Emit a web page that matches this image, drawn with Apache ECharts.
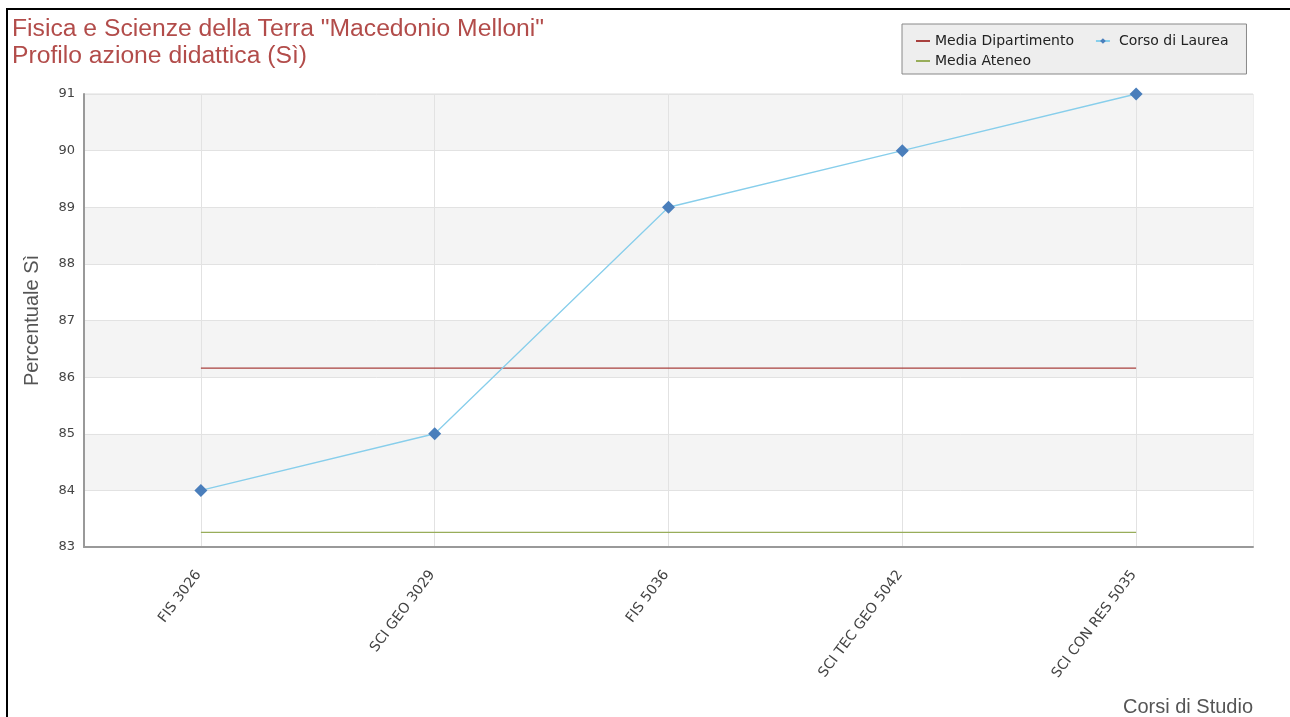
<!DOCTYPE html>
<html>
<head>
<meta charset="utf-8">
<script src="https://cdn.jsdelivr.net/npm/echarts@6/dist/echarts.min.js"></script>
<style>
    body { margin: 0; background: #fff; }
    #frame { position: absolute; left: 6px; top: 8px; width: 1290px; height: 720px;
             border-left: 2px solid #000; border-top: 2px solid #000; }
    #chart { position: absolute; left: 0; top: 0; width: 1290px; height: 717px; }
</style>
</head>
<body>
<div id="frame"></div>
<div id="chart"></div>
<script>
var corsi = ['FIS 3026', 'SCI GEO 3029', 'FIS 5036', 'SCI TEC GEO 5042', 'SCI CON RES 5035'];
var corsoDiLaurea = [84, 85, 89, 90, 91];
var mediaDipartimento = [86.16, 86.16, 86.16, 86.16, 86.16];
var mediaAteneo = [83.26, 83.26, 83.26, 83.26, 83.26];

showChart();

function showChart() {
    var oChart = document.getElementById('chart');
    var chart = echarts.init(oChart);

    var option = {
        animation: false,
        title: {
            text: 'Fisica e Scienze della Terra "Macedonio Melloni"\nProfilo azione didattica (Sì)',
            left: 7,
            top: 11,
            textStyle: {
                color: '#b24c4a',
                fontFamily: 'Liberation Sans',
                fontWeight: 'normal',
                fontSize: 24.7,
                lineHeight: 27
            }
        },
        legend: {
            data: [
                { name: 'Media Dipartimento', itemStyle: { opacity: 0 }, textStyle: { padding: [0, 15, 0, 0] } },
                { name: 'Corso di Laurea', textStyle: { padding: [0, 0, 0, 4] } },
                { name: 'Media Ateneo', itemStyle: { opacity: 0 } }
            ],
            left: 902,
            top: 24,
            width: 322,
            padding: [10, 18, 6, 13],
            itemGap: 6,
            itemWidth: 14,
            itemHeight: 7,
            backgroundColor: '#eeeeee',
            borderColor: '#888',
            borderWidth: 1,
            textStyle: {
                fontFamily: 'DejaVu Sans',
                fontSize: 14,
                lineHeight: 14,
                color: '#222'
            }
        },
        grid: {
            left: 84,
            right: 37,
            top: 94,
            bottom: 170,
            show: true,
            borderColor: '#dddddd',
            borderWidth: 1
        },
        xAxis: {
            type: 'category',
            data: corsi,
            boundaryGap: true,
            name: 'Corsi di Studio',
            nameLocation: 'end',
            nameGap: 0,
            nameTextStyle: {
                fontFamily: 'Liberation Sans',
                fontSize: 20,
                color: '#555',
                align: 'right',
                verticalAlign: 'top',
                padding: [150, 0, 0, 0]
            },
            axisLine: { lineStyle: { color: '#999', width: 2 } },
            axisTick: { show: false },
            axisLabel: {
                rotate: 53,
                margin: 22,
                fontFamily: 'DejaVu Sans',
                fontSize: 14,
                color: '#444',
                padding: [0, 4, 0, 0]
            },
            splitLine: {
                show: true,
                alignWithLabel: true,
                lineStyle: { color: '#e2e2e2' }
            }
        },
        yAxis: {
            type: 'value',
            min: 83,
            max: 91,
            interval: 1,
            name: 'Percentuale Sì',
            nameLocation: 'middle',
            nameGap: 42,
            nameTextStyle: {
                fontFamily: 'Liberation Sans',
                fontSize: 20,
                color: '#555'
            },
            axisLine: { show: true, lineStyle: { color: '#999', width: 2 } },
            axisTick: { show: false },
            axisLabel: {
                margin: 9,
                fontFamily: 'DejaVu Sans',
                fontSize: 13,
                color: '#444'
            },
            splitLine: { lineStyle: { color: '#e2e2e2' } },
            splitArea: {
                show: true,
                areaStyle: { color: ['#ffffff', '#f4f4f4'] }
            }
        },
        series: [{
            name: 'Media Dipartimento',
            type: 'line',
            symbol: 'circle',
            showSymbol: false,
            data: mediaDipartimento,
            itemStyle: { color: '#a8403e' },
            lineStyle: { color: '#a8403e', width: 1.3 }
        }, {
            name: 'Corso di Laurea',
            type: 'line',
            symbol: 'diamond',
            symbolSize: 13,
            data: corsoDiLaurea,
            itemStyle: { color: '#4a7ebb' },
            lineStyle: { color: '#87ceeb', width: 1.3 },
            z: 3
        }, {
            name: 'Media Ateneo',
            type: 'line',
            symbol: 'circle',
            showSymbol: false,
            data: mediaAteneo,
            itemStyle: { color: '#98ad5a' },
            lineStyle: { color: '#98ad5a', width: 1.3 }
        }]
    };

    chart.setOption(option);
}
</script>
</body>
</html>
